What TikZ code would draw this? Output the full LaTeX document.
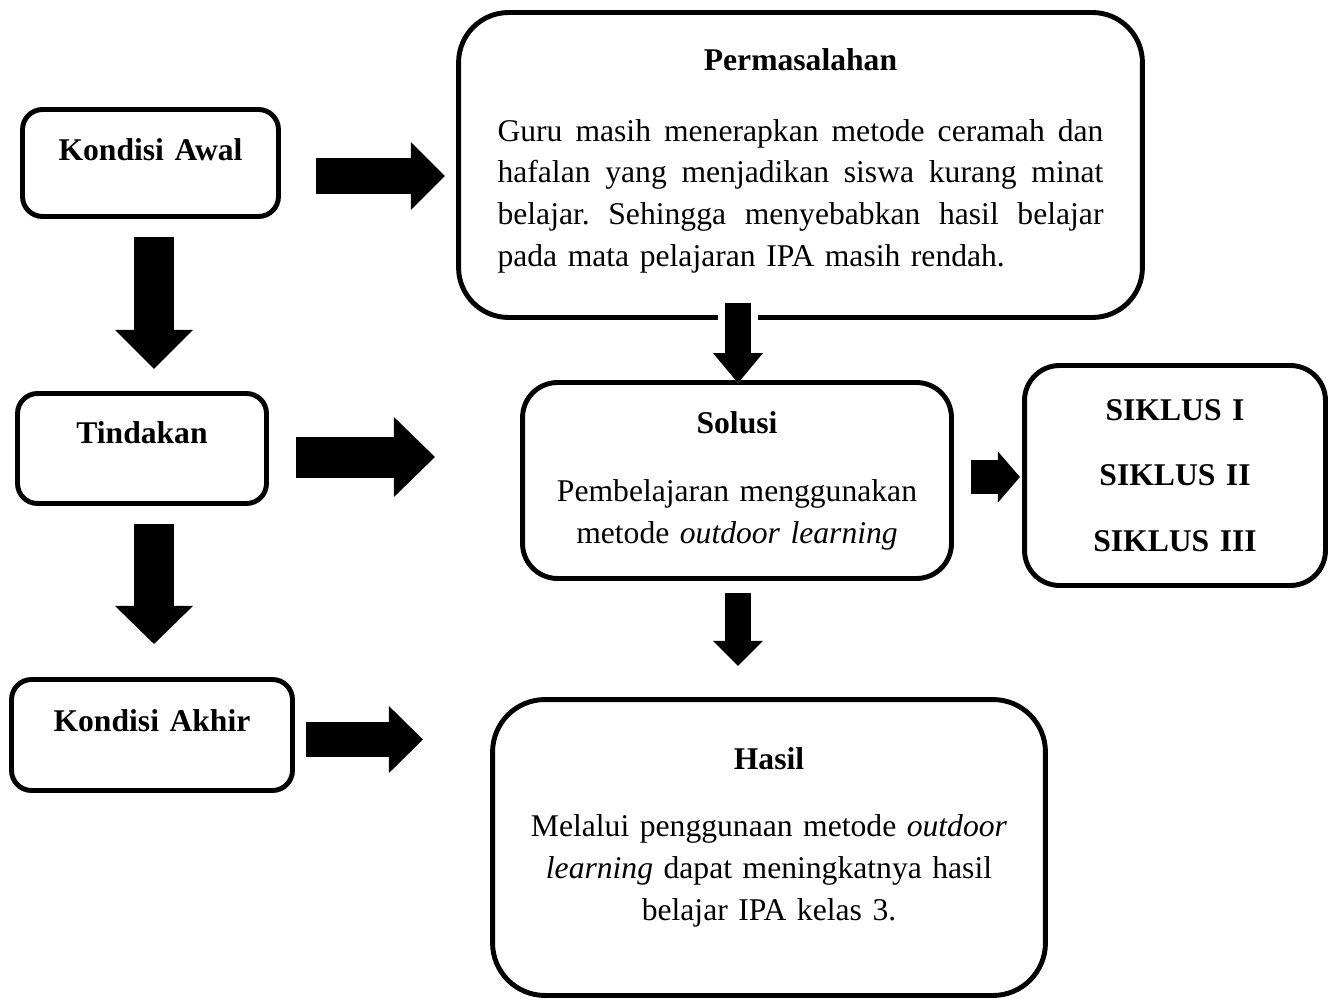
\documentclass[tikz,border=0pt]{standalone}
\usepackage{fontspec}
\setmainfont{Liberation Serif}
\usetikzlibrary{arrows.meta,calc}

\newcommand{\fullline}[1]{\makebox[12.12cm][s]{\frenchspacing\spaceskip=0pt\xspaceskip=0pt\relax #1}}

\begin{document}
\begin{tikzpicture}[x=0.02cm, y=-0.02cm,
    roundbox/.style = {draw, line width=2.8pt, rounded corners=#1, inner sep=0pt, align=center, font=\fontsize{18}{23.9}\selectfont},
    bigarrow/.style n args = {3}{line width=#1, -{Triangle[length=#2, width=#3, line width=0pt]}}]
  \useasboundingbox (0,0) rectangle (1335,1001);
  % left column
  \node[roundbox=0.4cm, minimum width=5.12cm, text width=5cm, text height=1.01cm, text depth=1.13cm] (awal) at (150.5,163) {\textbf{Kondisi Awal}};
  \node[roundbox=0.4cm, minimum width=4.98cm, text width=4.8cm, text height=0.99cm, text depth=1.21cm] (tind) at (142,448.5) {\textbf{Tindakan}};
  \node[roundbox=0.4cm, minimum width=5.62cm, text width=5.4cm, text height=1.03cm, text depth=1.19cm] (akhir) at (152,735) {\textbf{Kondisi Akhir}};
  % right column
  \node[roundbox=1cm, minimum width=13.68cm, text width=12.12cm, text height=1.15cm, text depth=4.95cm] (perm) at (800.5,165)
    {\textbf{Permasalahan}\\[16.5pt]
     \fullline{Guru masih menerapkan metode ceramah dan}\\
     \fullline{hafalan yang menjadikan siswa kurang minat}\\
     \fullline{belajar. Sehingga menyebabkan hasil belajar}\\
     \makebox[12.12cm][l]{pada mata pelajaran IPA masih rendah.}};
  \node[roundbox=0.7cm, minimum width=8.58cm, text width=8cm, text height=1.01cm, text depth=2.91cm] (solusi) at (737,480.5)
    {\textbf{Solusi}\\[15.2pt]
     Pembelajaran menggunakan\\
     metode \textit{outdoor learning}};
  \node[roundbox=0.7cm, minimum width=6.02cm, text width=5.6cm, text height=1.09cm, text depth=3.31cm] (siklus) at (1175,475.5)
    {\textbf{SIKLUS I}\\[13.5pt]\textbf{SIKLUS II}\\[13.5pt]\textbf{SIKLUS III}};
  \node[roundbox=1.05cm, minimum width=11.06cm, text width=10cm, text height=1.39cm, text depth=4.53cm] (hasil) at (769,847.5)
    {\textbf{Hasil}\\[14.7pt]
     Melalui penggunaan metode \textit{outdoor}\\
     \textit{learning} dapat meningkatnya hasil\\
     belajar IPA kelas 3.};
  % arrows
  \draw[bigarrow={0.72cm}{0.68cm}{1.36cm}] ($(awal.east)+(35,13)$) -- ++(129,0);
  \draw[bigarrow={0.82cm}{0.82cm}{1.6cm}] ($(tind.east)+(27,8.5)$) -- ++(139,0);
  \draw[bigarrow={0.7cm}{0.68cm}{1.34cm}] ($(akhir.east)+(11,4.5)$) -- ++(117,0);
  \draw[bigarrow={0.8cm}{0.78cm}{1.56cm}] ($(awal.south)+(3.5,18)$) -- ++(0,132);
  \draw[bigarrow={0.8cm}{0.76cm}{1.56cm}] ($(tind.south)+(12,18)$) -- ++(0,120);
  \draw[bigarrow={0.52cm}{0.6cm}{1cm}, preaction={draw=white, line width=0.8cm}] ($(solusi.north)+(1,-77)$) -- ($(solusi.north)+(1,3)$);
  \draw[bigarrow={0.52cm}{0.5cm}{1cm}] ($(solusi.south)+(1,12)$) -- ++(0,73);
  \draw[bigarrow={0.68cm}{0.44cm}{1.02cm}] ($(solusi.east)+(17,-3.5)$) -- ++(49,0);
\end{tikzpicture}
\end{document}
